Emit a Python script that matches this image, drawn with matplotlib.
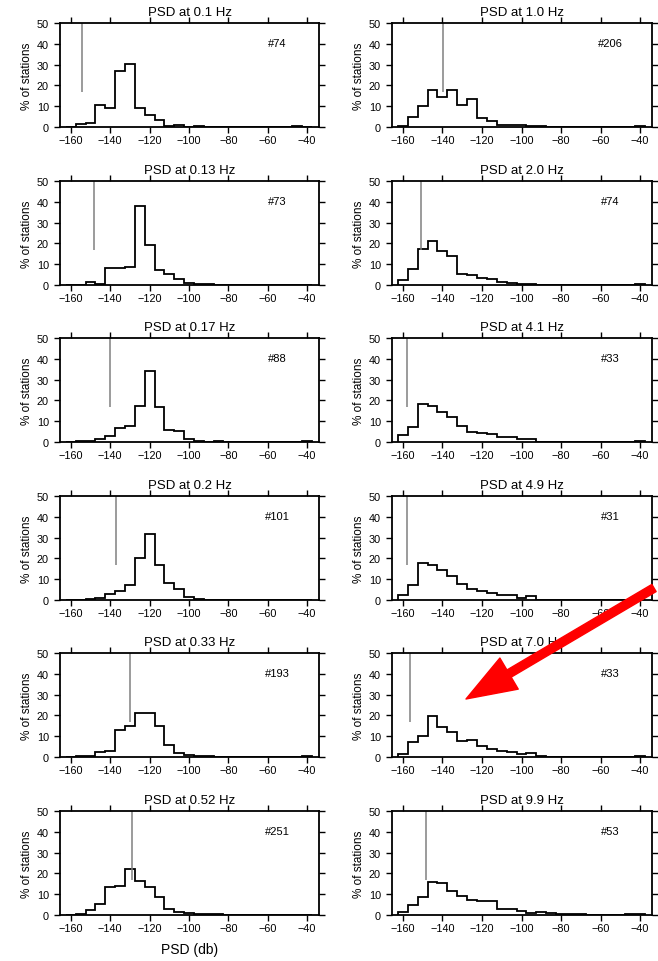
import numpy as np
import matplotlib.pyplot as plt

plt.rcParams['font.family'] = ['Liberation Sans', 'DejaVu Sans']

# bin centres (dB), 5 dB wide bins
bin_centers = [-160, -155, -150, -145, -140, -135, -130, -125, -120, -115, -110, -105, -100,
               -95, -90, -85, -80, -75, -70, -65, -60, -55, -50, -45, -40]

# % of stations per bin
psd_0p1 = [0, 1.3, 2, 10.8, 9, 27, 30.5, 9, 6, 3.3, 0.5, 0.8, 0, 0.3, 0, 0, 0, 0, 0, 0, 0, 0, 0, 0.3, 0]
psd_0p13 = [0, 0, 1.5, 0.5, 8, 8, 8.5, 38, 19, 7.3, 5.5, 3, 1, 0.3, 0.3, 0.2, 0, 0, 0, 0, 0, 0, 0, 0, 0]
psd_0p17 = [0.2, 0.3, 0.3, 1.3, 3, 6.5, 7.5, 17.5, 34, 17, 6, 5.3, 1.3, 0.5, 0.2, 0.3, 0, 0, 0, 0, 0, 0, 0, 0, 0.3]
psd_0p2 = [0, 0.2, 0.3, 1, 3, 4.2, 7, 20, 31.5, 17, 8, 5.5, 1.3, 0.7, 0.2, 0.2, 0, 0, 0, 0, 0, 0, 0, 0, 0]
psd_0p33 = [0, 0.3, 0.3, 2.3, 3, 13, 15, 21, 21.3, 15, 6, 2, 1, 0.5, 0.3, 0.2, 0, 0, 0, 0, 0, 0, 0, 0, 0.3]
psd_0p52 = [0.2, 0.5, 2.3, 5.5, 13.5, 14, 22, 16.5, 13.5, 8.5, 3, 1.3, 0.8, 0.3, 0.3, 0.3, 0.2, 0, 0, 0, 0, 0, 0, 0, 0.2]
psd_1p0 = [0.5, 5, 10, 18, 14.5, 18, 10.5, 13.5, 4.5, 3, 1, 1, 1, 0.3, 0.3, 0, 0, 0, 0, 0, 0, 0, 0, 0, 0.3]
psd_2p0 = [2.5, 7.5, 17.5, 21, 16.5, 14, 5.5, 5, 3.5, 3, 1.5, 1, 0.7, 0.5, 0, 0, 0, 0, 0, 0, 0, 0, 0, 0, 0.3]
psd_4p1 = [3.5, 7, 18.3, 17.5, 14.5, 12, 7.5, 5, 4.3, 4, 2.5, 2.5, 1.3, 1.5, 0, 0, 0, 0, 0, 0, 0, 0, 0, 0, 0.3]
psd_4p9 = [2.5, 7.3, 18, 17, 14.5, 11.5, 7.5, 5.5, 4.5, 3.5, 2.3, 2.3, 1, 1.7, 0, 0, 0, 0, 0, 0, 0, 0, 0, 0, 0]
psd_7p0 = [1.5, 7, 10, 19.5, 14.5, 12, 7.5, 8, 5.5, 4, 3, 2.5, 1.5, 2, 0.3, 0, 0, 0, 0, 0, 0, 0, 0, 0, 0.3]
psd_9p9 = [1.5, 4.8, 8.5, 15.8, 15.3, 11.5, 9, 7, 6.5, 6.5, 3, 3, 2, 1, 1.5, 0.8, 0.5, 0.3, 0.3, 0.2, 0.2, 0.1, 0.2, 0.3, 0.5]

titles_left = ['PSD at 0.1 Hz', 'PSD at 0.13 Hz', 'PSD at 0.17 Hz', 'PSD at 0.2 Hz', 'PSD at 0.33 Hz', 'PSD at 0.52 Hz']
titles_right = ['PSD at 1.0 Hz', 'PSD at 2.0 Hz', 'PSD at 4.1 Hz', 'PSD at 4.9 Hz', 'PSD at 7.0 Hz', 'PSD at 9.9 Hz']
data_left = [psd_0p1, psd_0p13, psd_0p17, psd_0p2, psd_0p33, psd_0p52]
data_right = [psd_1p0, psd_2p0, psd_4p1, psd_4p9, psd_7p0, psd_9p9]
# reference level (vertical grey line) and number of stations
ref_left = [-154.5, -148, -140, -137, -130, -129]
ref_right = [-139.5, -151, -158, -158, -156.5, -148.5]
count_left = ['#74', '#73', '#88', '#101', '#193', '#251']
count_right = ['#206', '#74', '#33', '#31', '#33', '#53']

W, H = 658, 962
fig = plt.figure(figsize=(W / 100, H / 100), dpi=100)

row_tops = [24, 182, 339, 497, 654, 812]
ax_h = 104
cols = [(60, 259, titles_left, data_left, ref_left, count_left),
        (392, 260, titles_right, data_right, ref_right, count_right)]

c = np.array(bin_centers, dtype=float)
edges = np.append(c - 2.5, c[-1] + 2.5)

axes = []
for x0, w, titles, datas, refs, counts in cols:
    for i, top in enumerate(row_tops):
        ax = fig.add_axes([x0 / W, 1 - (top + ax_h) / H, w / W, ax_h / H])
        ax.stairs(datas[i], edges, color='black', lw=1.3, baseline=0)
        ax.vlines(refs[i], 17, 50, color='0.5', lw=1.1)
        ax.text(-55, 40.5, counts[i], ha='center', va='center', fontsize=8)
        ax.set_xlim(-165.5, -34)
        ax.set_ylim(0, 50)
        ax.set_xticks([-160, -140, -120, -100, -80, -60, -40])
        ax.set_yticks([0, 10, 20, 30, 40, 50])
        ax.tick_params(direction='out', top=True, right=True, length=4, width=1,
                       labelsize=7.8, pad=2)
        ax.tick_params(axis='y', pad=4)
        for s in ax.spines.values():
            s.set_linewidth(1.3)
        ax.set_title(titles[i], fontsize=9.5, pad=6)
        ax.set_ylabel('% of stations', fontsize=8.5, labelpad=3)
        axes.append(ax)

axes[5].set_xlabel('PSD (db)', fontsize=10, labelpad=6)

# red arrow pointing at the 7.0 Hz panel
axes[-1].annotate('', xy=(466, 262), xycoords='figure pixels',
                  xytext=(654, 373), textcoords='figure pixels',
                  arrowprops=dict(arrowstyle='simple,head_length=3.6,head_width=2.6,tail_width=0.6',
                                  color='red', mutation_scale=10, shrinkA=0, shrinkB=0),
                  annotation_clip=False)

fig.savefig('out.png', dpi=100)
